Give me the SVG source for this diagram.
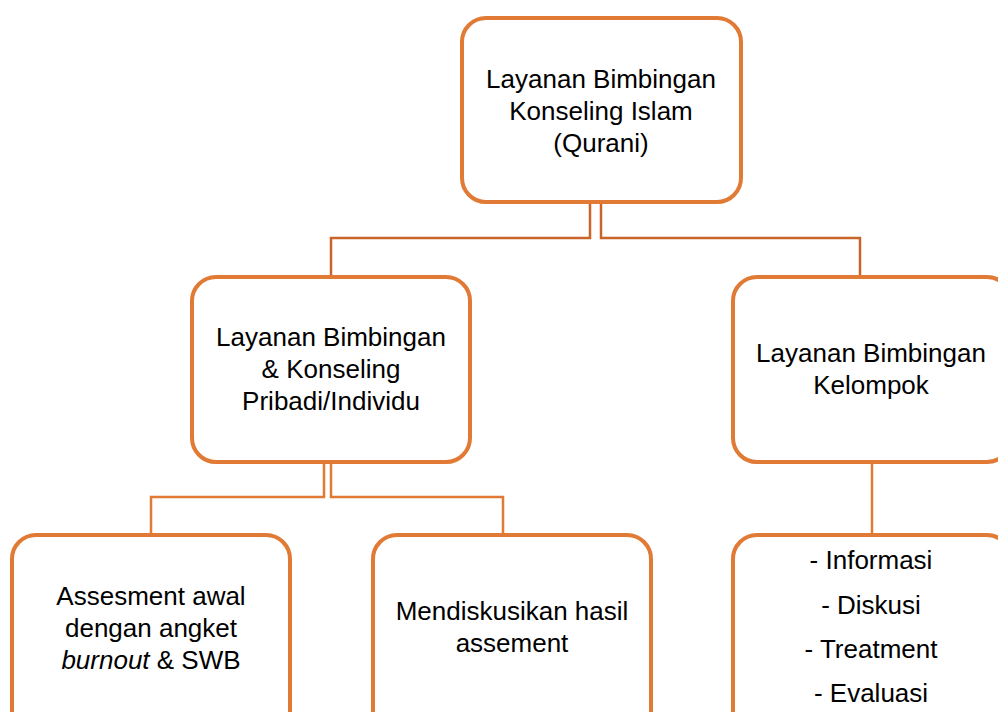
<svg xmlns="http://www.w3.org/2000/svg" width="998" height="712" viewBox="0 0 998 712">
<style>
.box{fill:#fff;stroke:#E07A35;stroke-width:4}
.t{font-family:"Liberation Sans",Arial,sans-serif;font-size:26px;fill:#000;text-anchor:middle}
.c1{fill:none;stroke:#C9652A;stroke-width:2.5}
.c2{fill:none;stroke:#E07A35;stroke-width:2.5}
</style>
<rect width="998" height="712" fill="#fff"/>
<g id="connectors">
<polyline class="c1" points="590,202 590,238 331,238 331,277"/>
<polyline class="c1" points="601,202 601,238 860,238 860,277"/>
<polyline class="c2" points="324,462 324,497 151,497 151,535"/>
<polyline class="c2" points="331,462 331,497 503,497 503,535"/>
<line class="c2" x1="872" y1="462" x2="872" y2="535"/>
</g>
<g id="top">
<rect class="box" x="462" y="18" width="279" height="184" rx="24"/>
<text class="t" x="601" y="88">Layanan Bimbingan</text>
<text class="t" x="601" y="120">Konseling Islam</text>
<text class="t" x="601" y="152">(Qurani)</text>
</g>
<g id="individu">
<rect class="box" x="192" y="277" width="278" height="185" rx="24"/>
<text class="t" x="331" y="346">Layanan Bimbingan</text>
<text class="t" x="331" y="378">&amp; Konseling</text>
<text class="t" x="331" y="410">Pribadi/Individu</text>
</g>
<g id="kelompok">
<rect class="box" x="733" y="277" width="278" height="185" rx="24"/>
<text class="t" x="871" y="362">Layanan Bimbingan</text>
<text class="t" x="871" y="394">Kelompok</text>
</g>
<g id="assesment">
<rect class="box" x="12" y="535" width="278" height="200" rx="24"/>
<text class="t" x="151" y="605">Assesment awal</text>
<text class="t" x="151" y="637">dengan angket</text>
<text class="t" x="151" y="669"><tspan font-style="italic">burnout</tspan> &amp; SWB</text>
</g>
<g id="diskusi">
<rect class="box" x="373" y="535" width="278" height="200" rx="24"/>
<text class="t" x="512" y="620">Mendiskusikan hasil</text>
<text class="t" x="512" y="652">assement</text>
</g>
<g id="kegiatan">
<rect class="box" x="733" y="535" width="278" height="200" rx="24"/>
<text class="t" x="871" y="569">- Informasi</text>
<text class="t" x="871" y="614">- Diskusi</text>
<text class="t" x="871" y="658">- Treatment</text>
<text class="t" x="871" y="702">- Evaluasi</text>
</g>
</svg>
